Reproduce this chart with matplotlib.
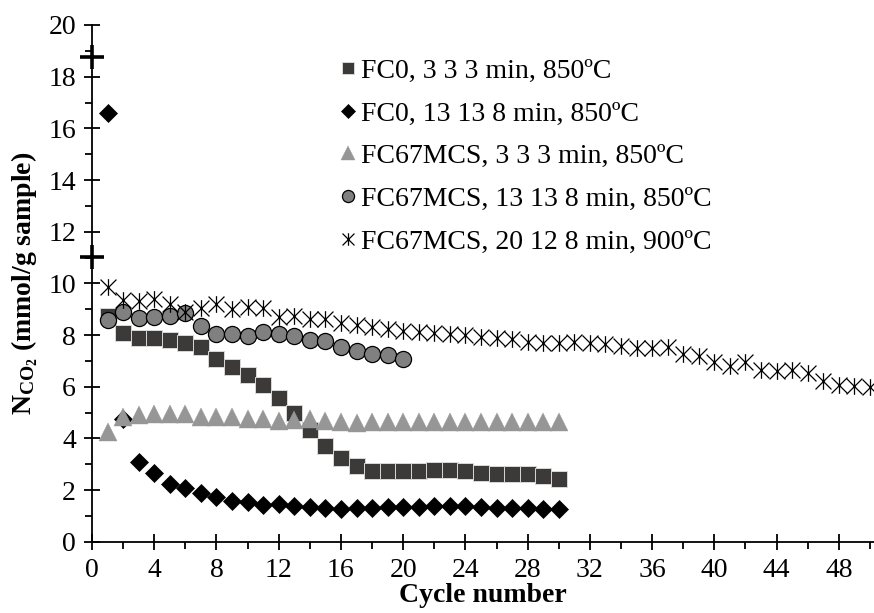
import matplotlib
matplotlib.use('Agg')
import matplotlib.pyplot as plt
from matplotlib.path import Path
from matplotlib.ticker import MultipleLocator

# ---- data ----
cycles_30 = list(range(1, 31))
cycles_20 = list(range(1, 21))
cycles_50 = list(range(1, 51))

fc0_333 = [8.75, 8.09, 7.90, 7.90, 7.81, 7.69, 7.54, 7.07, 6.78, 6.45,
           6.06, 5.57, 4.97, 4.32, 3.72, 3.23, 2.94, 2.75, 2.73, 2.75,
           2.72, 2.76, 2.78, 2.72, 2.66, 2.62, 2.63, 2.61, 2.53, 2.42]
fc0_13138 = [16.58, 4.74, 3.07, 2.65, 2.23, 2.07, 1.90, 1.72, 1.59, 1.55,
             1.42, 1.46, 1.38, 1.33, 1.29, 1.25, 1.29, 1.29, 1.33, 1.33,
             1.33, 1.38, 1.38, 1.38, 1.33, 1.29, 1.29, 1.29, 1.25, 1.25]
fc67_333 = [4.26, 4.83, 4.92, 4.93, 4.93, 4.93, 4.82, 4.82, 4.82, 4.75,
            4.74, 4.69, 4.70, 4.74, 4.69, 4.62, 4.61, 4.62, 4.64, 4.64,
            4.64, 4.64, 4.62, 4.62, 4.62, 4.64, 4.64, 4.64, 4.62, 4.62]
fc67_13138 = [8.58, 8.90, 8.65, 8.69, 8.74, 8.87, 8.35, 8.04, 8.04, 7.98,
              8.10, 8.05, 7.95, 7.82, 7.78, 7.55, 7.40, 7.27, 7.23, 7.06]
fc67_20128 = [9.85, 9.36, 9.33, 9.38, 9.20, 8.91, 9.04, 9.20, 9.00, 9.10,
              9.04, 8.69, 8.74, 8.61, 8.61, 8.45, 8.39, 8.30, 8.23, 8.17,
              8.13, 8.07, 8.03, 8.00, 7.91, 7.87, 7.84, 7.74, 7.70, 7.70,
              7.74, 7.68, 7.66, 7.56, 7.51, 7.50, 7.52, 7.28, 7.18, 6.97,
              6.82, 6.95, 6.65, 6.60, 6.63, 6.54, 6.21, 6.07, 6.03, 5.98]
extra_x = [0, 0]
extra_y = [18.78, 11.03]

labels = ["FC0, 3 3 3 min, 850ºC",
          "FC0, 13 13 8 min, 850ºC",
          "FC67MCS, 3 3 3 min, 850ºC",
          "FC67MCS, 13 13 8 min, 850ºC",
          "FC67MCS, 20 12 8 min, 900ºC"]
x_ticks = list(range(0, 49, 4))
y_ticks = list(range(0, 21, 2))

# ---- style ----
plt.rcParams['font.family'] = ['Liberation Serif', 'DejaVu Serif']
plt.rcParams['mathtext.fontset'] = 'custom'
plt.rcParams['mathtext.rm'] = 'Liberation Serif'
plt.rcParams['mathtext.bf'] = 'Liberation Serif:bold'
plt.rcParams['mathtext.it'] = 'Liberation Serif:italic'

FS = 20

fig = plt.figure(figsize=(8.74, 6.13), dpi=100)
ax = fig.add_axes([92 / 874, (613 - 541.7) / 613, 782 / 874, 516.7 / 613])

star = Path([(-1, -1), (1, 1), (-1, 1), (1, -1), (0, -1.05), (0, 1.05)],
            [Path.MOVETO, Path.LINETO, Path.MOVETO, Path.LINETO, Path.MOVETO, Path.LINETO])

ax.plot(cycles_30, fc0_333, ls='none', marker='s', ms=11, mfc='#3c3a38',
        mec='#d8d8d8', mew=0.7, label=labels[0])
ax.plot(cycles_30, fc0_13138, ls='none', marker='D', ms=9.2, mfc='black',
        mec='black', mew=0.5, label=labels[1])
ax.plot(cycles_30, fc67_333, ls='none', marker='^', ms=12.5, mfc='#969696',
        mec='#969696', mew=0.3, label=labels[2])
ax.plot(cycles_20, fc67_13138, ls='none', marker='o', ms=11.6, mfc='#808080',
        mec='black', mew=0.9, label=labels[3])
ax.plot(cycles_50, fc67_20128, ls='none', marker=star, ms=12, mfc='none',
        mec='black', mew=0.9, label=labels[4], clip_on=False)
ax.plot(extra_x, extra_y, ls='none', marker='+', ms=17, mew=2.6, color='black',
        clip_on=False)

ax.set_xlim(0, 50.26)
ax.set_ylim(0, 20)
ax.set_xticks(x_ticks)
ax.set_yticks(y_ticks)
ax.xaxis.set_minor_locator(MultipleLocator(2))
ax.yaxis.set_minor_locator(MultipleLocator(1))
ax.spines['top'].set_visible(False)
ax.spines['right'].set_visible(False)
for s in ('left', 'bottom'):
    ax.spines[s].set_linewidth(1.3)
ax.tick_params(which='major', direction='inout', length=11, width=1.3,
               labelsize=FS, pad=6)
ax.tick_params(which='minor', direction='out', length=5, width=1.3)
ax.tick_params(axis='x', which='major', pad=6)

ax.set_xlabel('Cycle number', fontsize=FS, fontweight='bold', labelpad=0)
ax.set_ylabel(r'$\mathbf{N_{CO_2}}$ (mmol/g sample)', fontsize=FS,
              fontweight='bold', labelpad=6)

leg = ax.legend(loc='upper left', bbox_to_anchor=(0.302, 0.957), frameon=False,
                fontsize=FS, handlelength=0.6, handletextpad=0.2,
                labelspacing=0.62, markerscale=0.75, borderaxespad=0)

fig.savefig('out.png', dpi=100)
